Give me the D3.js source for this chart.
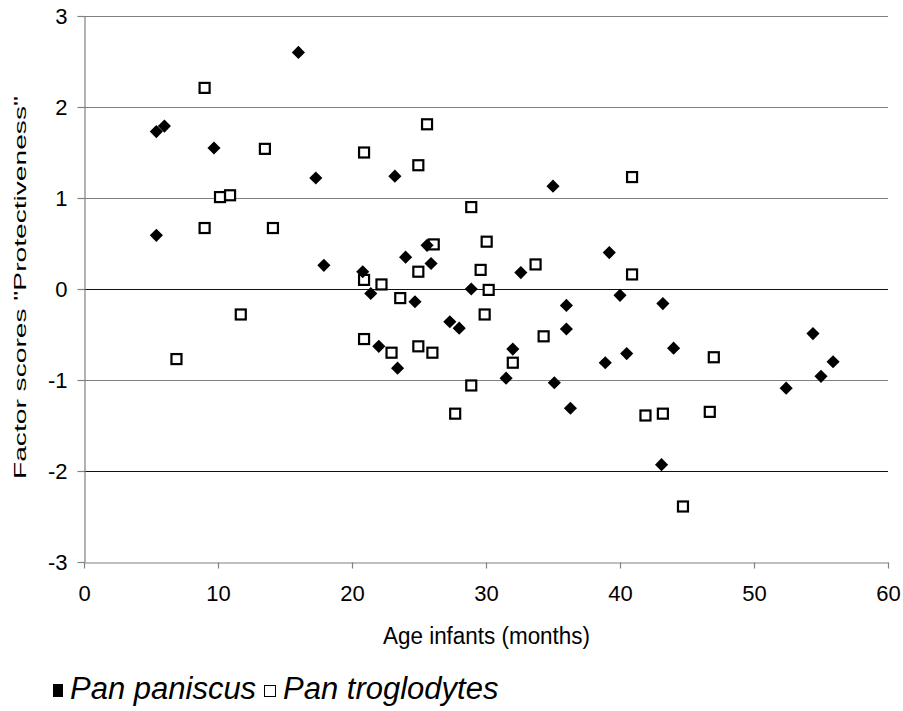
<!DOCTYPE html>
<html>
<head>
<meta charset="utf-8">
<script src="https://cdn.jsdelivr.net/npm/d3@7"></script>
<style>
  body { margin: 0; background: #fff; }
  text { font-family: "Liberation Sans", Arial, sans-serif; }
</style>
</head>
<body>
<svg width="903" height="711"></svg>
<script>
// Pan paniscus (filled diamonds): age in months, factor score
const paniscusAge = [16.0, 5.4, 6.0, 9.7, 17.3, 5.4, 17.9, 20.8, 21.4, 23.2, 35.0, 24.0, 25.6, 25.9, 32.6,
  39.2, 28.9, 24.7, 40.0, 43.2, 36.0, 27.3, 28.0, 36.0, 22.0, 23.4, 32.0, 31.5, 35.1, 38.9,
  40.5, 36.3, 43.1, 44.0, 54.4, 55.9, 55.0, 52.4];
const paniscusScore = [2.60, 1.73, 1.79, 1.55, 1.22, 0.59, 0.26, 0.19, -0.05, 1.24, 1.13, 0.35, 0.48, 0.28, 0.18,
  0.40, 0.00, -0.14, -0.07, -0.16, -0.18, -0.36, -0.43, -0.44, -0.63, -0.87, -0.66, -0.98, -1.03, -0.81,
  -0.71, -1.31, -1.93, -0.65, -0.49, -0.80, -0.96, -1.09];

// Pan troglodytes (open squares)
const troglodytesAge = [9.0, 13.5, 20.9, 10.15, 10.9, 9.0, 14.1, 20.9, 11.7, 6.9, 20.9, 25.6, 24.95, 40.9,
  28.9, 26.1, 30.05, 29.6, 33.7, 40.9, 24.95, 22.2, 30.2, 23.6, 29.9, 34.3, 22.95, 24.95, 26.0,
  32.0, 28.9, 27.7, 41.9, 43.2, 47.0, 46.7, 44.7];
const troglodytesScore = [2.21, 1.54, 1.50, 1.01, 1.03, 0.67, 0.67, 0.10, -0.28, -0.77, -0.55, 1.81, 1.36, 1.23,
  0.90, 0.49, 0.52, 0.21, 0.27, 0.16, 0.19, 0.05, -0.01, -0.10, -0.28, -0.52, -0.70, -0.63, -0.70,
  -0.81, -1.06, -1.37, -1.39, -1.37, -0.75, -1.35, -2.39];

const xTicks = [0, 10, 20, 30, 40, 50, 60];
const yTicks = [-3, -2, -1, 0, 1, 2, 3];

const svg = d3.select('svg');

const x = d3.scaleLinear().domain([0, 60]).range([84, 888]);
const y = d3.scaleLinear().domain([-3, 3]).range([562, 16]);

// horizontal gridlines
svg.append('g')
  .selectAll('line')
  .data(yTicks.filter(d => d > -3))
  .enter()
  .append('line')
  .attr('x1', x(0))
  .attr('x2', x(60))
  .attr('y1', d => Math.round(y(d)) + 0.5)
  .attr('y2', d => Math.round(y(d)) + 0.5)
  .style('stroke', d => (d === 0 || d === -2) ? '#111' : '#808080')
  .style('stroke-width', 1.2);

// x axis
const xAxis = svg.append('g')
  .attr('transform', `translate(0,${Math.round(y(-3)) + 0.5})`)
  .call(d3.axisBottom(x).tickValues(xTicks).tickFormat(d => String(d))
    .tickSize(6).tickSizeOuter(0).tickPadding(17));

// y axis
const yAxis = svg.append('g')
  .attr('transform', `translate(${Math.round(x(0)) + 0.5},0)`)
  .call(d3.axisLeft(y).tickValues(yTicks).tickFormat(d => String(d))
    .tickSize(7).tickSizeOuter(0).tickPadding(10));

[xAxis, yAxis].forEach(g => {
  g.select('.domain').style('stroke', '#808080').style('stroke-width', 1.2);
  g.selectAll('.tick line').style('stroke', '#808080').style('stroke-width', 1.2);
  g.selectAll('.tick text')
    .style('font-size', '22px')
    .style('font-family', '"Liberation Sans", Arial, sans-serif')
    .style('fill', '#000');
});

// axis titles
svg.append('text')
  .attr('x', 383)
  .attr('y', 644)
  .attr('textLength', 207)
  .attr('lengthAdjust', 'spacingAndGlyphs')
  .style('font-size', '23px')
  .text('Age infants (months)');

svg.append('text')
  .attr('transform', 'translate(26,479) rotate(-90)')
  .attr('textLength', 383)
  .attr('lengthAdjust', 'spacingAndGlyphs')
  .style('font-size', '17px')
  .style('fill', '#000')
  .text('Factor scores "Protectiveness"');

// troglodytes: open squares
svg.append('g')
  .selectAll('rect')
  .data(troglodytesAge.map((d, i) => ({ age: d, score: troglodytesScore[i] })))
  .enter()
  .append('rect')
  .attr('x', d => x(d.age) - 5)
  .attr('y', d => y(d.score) - 5)
  .attr('width', 10)
  .attr('height', 10)
  .style('fill', '#fff')
  .style('stroke', '#000')
  .style('stroke-width', 2.2);

// paniscus: filled diamonds
const diamond = d3.symbol().type(d3.symbolDiamond2).size(110);
svg.append('g')
  .selectAll('path')
  .data(paniscusAge.map((d, i) => ({ age: d, score: paniscusScore[i] })))
  .enter()
  .append('path')
  .attr('d', diamond)
  .attr('transform', d => `translate(${x(d.age)},${y(d.score)})`)
  .style('fill', '#000');

// legend
const legend = svg.append('g').attr('transform', 'translate(0,699)');
legend.append('rect')
  .attr('x', 53).attr('y', -15).attr('width', 10).attr('height', 13)
  .style('fill', '#000');
legend.append('text')
  .attr('x', 70).attr('y', 0)
  .style('font-size', '31px').style('font-style', 'italic')
  .text('Pan paniscus');
legend.append('rect')
  .attr('x', 264.5).attr('y', -13.5).attr('width', 11).attr('height', 11)
  .style('fill', '#fff').style('stroke', '#000').style('stroke-width', 1);
legend.append('text')
  .attr('x', 283).attr('y', 0)
  .style('font-size', '31px').style('font-style', 'italic')
  .text('Pan troglodytes');
</script>
</body>
</html>
